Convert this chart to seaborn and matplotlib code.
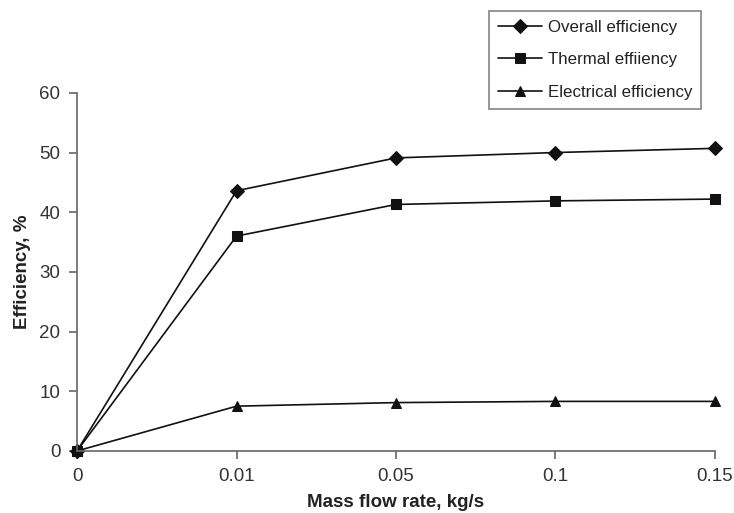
import pandas as pd
import matplotlib
matplotlib.use('Agg')
import matplotlib.pyplot as plt
import seaborn as sns

# Data
flow_rates = ["0", "0.01", "0.05", "0.1", "0.15"]
overall = [0, 43.6, 49.1, 50.0, 50.7]
thermal = [0, 36.0, 41.3, 41.9, 42.2]
electrical = [0, 7.5, 8.1, 8.3, 8.3]
series_names = ["Overall efficiency", "Thermal effiiency", "Electrical efficiency"]

df = pd.DataFrame({
    "flow": flow_rates * 3,
    "value": overall + thermal + electrical,
    "series": [series_names[0]] * 5 + [series_names[1]] * 5 + [series_names[2]] * 5,
})

sns.set_style("white")
plt.rcParams['font.family'] = ['Liberation Sans', 'DejaVu Sans']

fig = plt.figure(figsize=(7.34, 5.13), dpi=100)
ax = fig.add_axes([0.105, 0.121, 0.869, 0.698])

sns.lineplot(data=df, x="flow", y="value", style="series", style_order=series_names,
             markers=['D', 's', '^'], dashes=False, color='#111111', linewidth=1.2,
             markersize=7, markeredgecolor='#111111', ax=ax, clip_on=False)

ax.set_xlim(0, 4)
ax.set_ylim(0, 60)
ax.set_yticks(range(0, 61, 10))
for s in ['top', 'right']:
    ax.spines[s].set_visible(False)
for s in ['left', 'bottom']:
    ax.spines[s].set_color('#666666')
    ax.spines[s].set_linewidth(1.2)
ax.tick_params(axis='both', which='both', direction='out', length=6, width=1.2,
               color='#666666', labelcolor='#333333', labelsize=13.5, pad=6,
               left=True, bottom=True)

ax.set_xlabel("Mass flow rate, kg/s", fontsize=13.5, fontweight='bold', color='#222222', labelpad=7)
ax.set_ylabel("Efficiency, %", fontsize=13.5, fontweight='bold', color='#222222', labelpad=6)

leg = ax.legend(loc='upper left', bbox_to_anchor=(0.655, 0.995), bbox_transform=fig.transFigure,
                fontsize=12.2, frameon=True, fancybox=False, edgecolor='#666666',
                handlelength=2.6, labelspacing=1.05, borderpad=0.5, handletextpad=0.35)
leg.get_frame().set_linewidth(1.2)
for t in leg.get_texts():
    t.set_color('#222222')

fig.savefig('out.png', dpi=100)
plt.close()
